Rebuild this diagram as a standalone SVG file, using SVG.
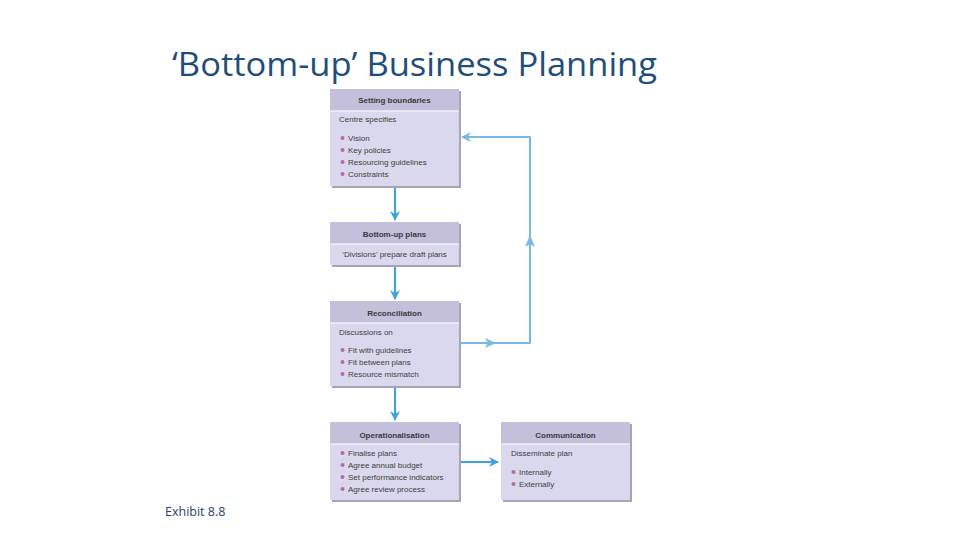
<svg xmlns="http://www.w3.org/2000/svg" width="960" height="540" viewBox="0 0 960 540">
<defs>
<style>
.shadow{fill:#a7a3b8}
.hd{fill:#c4c0dc}
.bd{fill:#dad8ed}
.sep{stroke:#ffffff;stroke-width:1.2}
.ht{font-family:"Liberation Sans",Arial,sans-serif;font-size:8px;font-weight:bold;fill:#3a3a3a;text-anchor:middle}
.bt{font-family:"Liberation Sans",Arial,sans-serif;font-size:8px;fill:#404040}
.bl{fill:#b56aa9}
.main{stroke:#3ea3dd;stroke-width:2;fill:none}
.fb{stroke:#76b9e3;stroke-width:2;fill:none}
.fbh{fill:#76b9e3}
</style>
<marker id="ahf" viewBox="0 0 10 10" refX="9" refY="5" markerWidth="10" markerHeight="10" orient="auto" markerUnits="userSpaceOnUse">
<path d="M0,0 L10,5 L0,10 L3,5 z" fill="#76b9e3"/>
</marker>
<marker id="ahm" viewBox="0 0 10 10" refX="9" refY="5" markerWidth="10" markerHeight="10" orient="auto" markerUnits="userSpaceOnUse">
<path d="M0,0 L10,5 L0,10 L3,5 z" fill="#3ea3dd"/>
</marker>
</defs>
<rect width="960" height="540" fill="#ffffff"/>
<text x="172" y="76" font-family="'Open Sans','Noto Sans',sans-serif" font-size="33" fill="#1f4e79" textLength="485" lengthAdjust="spacingAndGlyphs">‘Bottom-up’ Business Planning</text>
<text x="165" y="516" font-family="'Open Sans','Noto Sans',sans-serif" font-size="12.5" fill="#1f3f6e">Exhibit 8.8</text>

<g id="connectors">
<line class="main" x1="395" y1="187" x2="395" y2="220" marker-end="url(#ahm)"/>
<line class="main" x1="395" y1="266" x2="395" y2="299" marker-end="url(#ahm)"/>
<line class="main" x1="395" y1="387" x2="395" y2="420" marker-end="url(#ahm)"/>
<line class="main" x1="460" y1="462" x2="498" y2="462" marker-end="url(#ahm)"/>
<polyline class="fb" points="460,343 530,343 530,137 462,137" marker-end="url(#ahf)"/>
<polygon class="fbh" points="485,338 496,343 485,348 488,343"/>
<polygon class="fbh" points="525,247 530,235 535,247 530,244"/>
</g>

<g id="setting-boundaries">
<rect class="shadow" x="332" y="91" width="129" height="97"/>
<rect class="bd" x="330" y="89" width="129" height="97"/>
<rect class="hd" x="330" y="89" width="129" height="22"/>
<line class="sep" x1="330" y1="111" x2="459" y2="111"/>
<text class="ht" x="394.5" y="103">Setting boundaries</text>
<text class="bt" x="339" y="122">Centre specifies</text>
<circle class="bl" cx="342.5" cy="138" r="2"/><text class="bt" x="348" y="141">Vision</text>
<circle class="bl" cx="342.5" cy="150" r="2"/><text class="bt" x="348" y="153">Key policies</text>
<circle class="bl" cx="342.5" cy="162" r="2"/><text class="bt" x="348" y="165">Resourcing guidelines</text>
<circle class="bl" cx="342.5" cy="174" r="2"/><text class="bt" x="348" y="177">Constraints</text>
</g>

<g id="bottom-up-plans">
<rect class="shadow" x="332" y="224" width="129" height="43"/>
<rect class="bd" x="330" y="222" width="129" height="43"/>
<rect class="hd" x="330" y="222" width="129" height="22"/>
<line class="sep" x1="330" y1="244" x2="459" y2="244"/>
<text class="ht" x="394.5" y="237">Bottom-up plans</text>
<text class="bt" x="394.5" y="257" text-anchor="middle">‘Divisions’ prepare draft plans</text>
</g>

<g id="reconciliation">
<rect class="shadow" x="332" y="303" width="129" height="85"/>
<rect class="bd" x="330" y="301" width="129" height="85"/>
<rect class="hd" x="330" y="301" width="129" height="22"/>
<line class="sep" x1="330" y1="323" x2="459" y2="323"/>
<text class="ht" x="394.5" y="316">Reconciliation</text>
<text class="bt" x="339" y="335">Discussions on</text>
<circle class="bl" cx="342.5" cy="350" r="2"/><text class="bt" x="348" y="353">Fit with guidelines</text>
<circle class="bl" cx="342.5" cy="362" r="2"/><text class="bt" x="348" y="365">Fit between plans</text>
<circle class="bl" cx="342.5" cy="374" r="2"/><text class="bt" x="348" y="377">Resource mismatch</text>
</g>

<g id="operationalisation">
<rect class="shadow" x="332" y="424" width="129" height="78"/>
<rect class="bd" x="330" y="422" width="129" height="78"/>
<rect class="hd" x="330" y="422" width="129" height="22"/>
<line class="sep" x1="330" y1="444" x2="459" y2="444"/>
<text class="ht" x="394.5" y="438">Operationalisation</text>
<circle class="bl" cx="342.5" cy="453" r="2"/><text class="bt" x="348" y="456">Finalise plans</text>
<circle class="bl" cx="342.5" cy="465" r="2"/><text class="bt" x="348" y="468">Agree annual budget</text>
<circle class="bl" cx="342.5" cy="477" r="2"/><text class="bt" x="348" y="480">Set performance indicators</text>
<circle class="bl" cx="342.5" cy="489" r="2"/><text class="bt" x="348" y="492">Agree review process</text>
</g>

<g id="communication">
<rect class="shadow" x="503" y="424" width="129" height="78"/>
<rect class="bd" x="501" y="422" width="129" height="78"/>
<rect class="hd" x="501" y="422" width="129" height="22"/>
<line class="sep" x1="501" y1="444" x2="630" y2="444"/>
<text class="ht" x="565.5" y="438">Communication</text>
<text class="bt" x="511" y="456">Disseminate plan</text>
<circle class="bl" cx="513.5" cy="472" r="2"/><text class="bt" x="519" y="475">Internally</text>
<circle class="bl" cx="513.5" cy="484" r="2"/><text class="bt" x="519" y="487">Externally</text>
</g>
</svg>
